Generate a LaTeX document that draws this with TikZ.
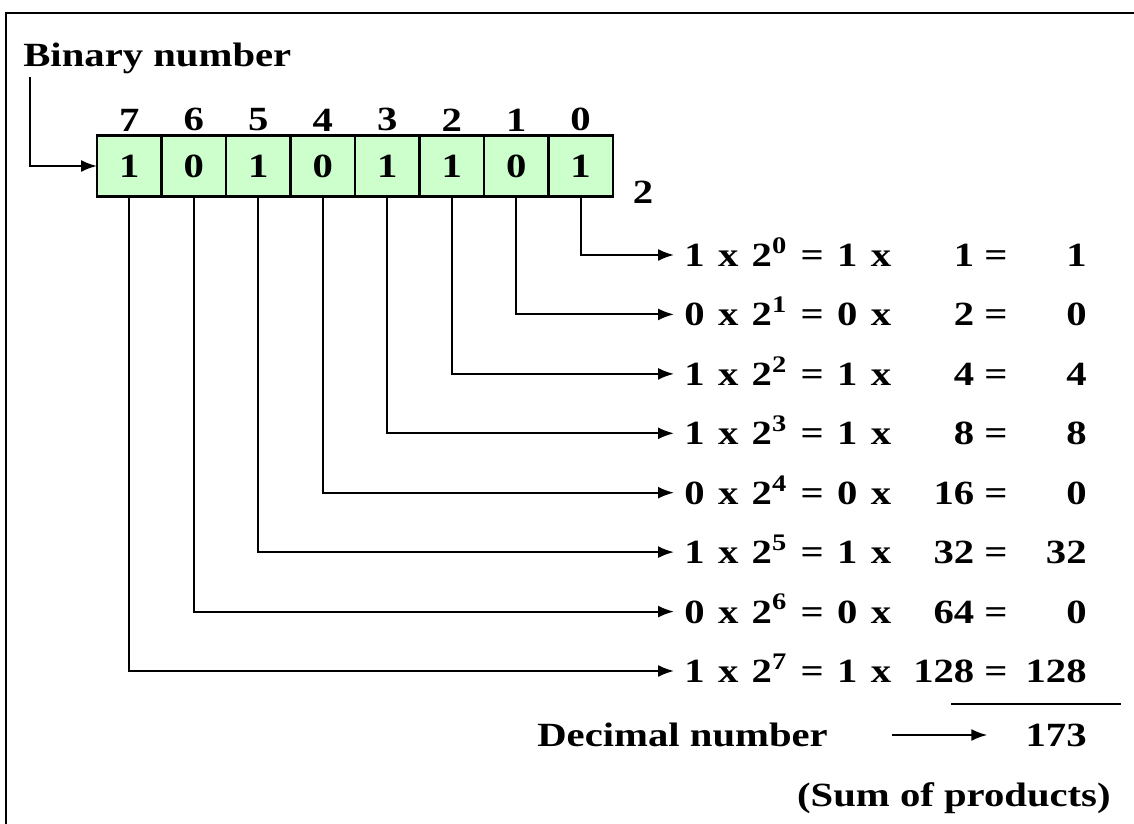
\documentclass[tikz,border=0pt]{standalone}
\usepackage{fontspec}
\setmainfont{Liberation Serif}[FakeStretch=1.2]
\usepackage{tikz}
\usetikzlibrary{positioning,arrows.meta}
\pgfdeclarelayer{background}
\pgfsetlayers{background,main}
\definecolor{bitgreen}{HTML}{CCFFCC}
\tikzset{
  bit/.style={draw,fill=bitgreen,line width=1.4pt,minimum width=1.29cm,minimum height=1.22cm,inner sep=0pt,outer sep=0pt},
  prod/.style={anchor=west,inner xsep=0.2cm,inner ysep=0pt,text height=13.2pt,text depth=0pt,execute at begin node={\spaceskip=7.6pt\relax}},
  val/.style={inner sep=0pt,text height=13.2pt,text depth=0pt},
  arr/.style={-{Latex[length=0.32cm,width=0.24cm]},line width=1.1pt},
}

\begin{document}
\begin{tikzpicture}[x=0.02cm,y=-0.02cm,font=\fontsize{19.3pt}{23pt}\selectfont\bfseries]
\useasboundingbox (0,0) rectangle (1134,824);
\begin{pgfonlayer}{background}
\draw[line width=1.7pt] (1134,13) -- (6,13) -- (6,824);
\end{pgfonlayer}
% the binary number
\node[val,anchor=west] (title) at (23,55) {Binary number};
\coordinate (tstart) at (30,77);
\node[bit] (c7) at (129.25,166) {1};
\node[bit,right=0pt of c7] (c6) {0};
\node[bit,right=0pt of c6] (c5) {1};
\node[bit,right=0pt of c5] (c4) {0};
\node[bit,right=0pt of c4] (c3) {1};
\node[bit,right=0pt of c3] (c2) {1};
\node[bit,right=0pt of c2] (c1) {0};
\node[bit,right=0pt of c1] (c0) {1};
\node[above=-1pt of c7] (n7) {7};
\node[above=-1pt of c6] (n6) {6};
\node[above=-1pt of c5] (n5) {5};
\node[above=-1pt of c4] (n4) {4};
\node[above=-1pt of c3] (n3) {3};
\node[above=-1pt of c2] (n2) {2};
\node[above=-1pt of c1] (n1) {1};
\node[above=-1pt of c0] (n0) {0};
\node (base) at (643,192) {2};
\draw[arr] (tstart) |- (c7.west);
% products
\node[prod] (p0) at (674,255) {1 x 2\textsuperscript{0} = 1 x};
\node[val,anchor=east] (m0) at (1008,255) {1 =};
\node[val,anchor=east] (v0) at (1087,255) {1};
\node[prod] (p1) at (674,314.4) {0 x 2\textsuperscript{1} = 0 x};
\node[val,anchor=east] (m1) at (1008,314.4) {2 =};
\node[val,anchor=east] (v1) at (1087,314.4) {0};
\node[prod] (p2) at (674,373.9) {1 x 2\textsuperscript{2} = 1 x};
\node[val,anchor=east] (m2) at (1008,373.9) {4 =};
\node[val,anchor=east] (v2) at (1087,373.9) {4};
\node[prod] (p3) at (674,433.3) {1 x 2\textsuperscript{3} = 1 x};
\node[val,anchor=east] (m3) at (1008,433.3) {8 =};
\node[val,anchor=east] (v3) at (1087,433.3) {8};
\node[prod] (p4) at (674,492.7) {0 x 2\textsuperscript{4} = 0 x};
\node[val,anchor=east] (m4) at (1008,492.7) {16 =};
\node[val,anchor=east] (v4) at (1087,492.7) {0};
\node[prod] (p5) at (674,552.1) {1 x 2\textsuperscript{5} = 1 x};
\node[val,anchor=east] (m5) at (1008,552.1) {32 =};
\node[val,anchor=east] (v5) at (1087,552.1) {32};
\node[prod] (p6) at (674,611.6) {0 x 2\textsuperscript{6} = 0 x};
\node[val,anchor=east] (m6) at (1008,611.6) {64 =};
\node[val,anchor=east] (v6) at (1087,611.6) {0};
\node[prod] (p7) at (674,671) {1 x 2\textsuperscript{7} = 1 x};
\node[val,anchor=east] (m7) at (1008,671) {128 =};
\node[val,anchor=east] (v7) at (1087,671) {128};
\draw[arr] (c0.south) |- (p0.west);
\draw[arr] (c1.south) |- (p1.west);
\draw[arr] (c2.south) |- (p2.west);
\draw[arr] (c3.south) |- (p3.west);
\draw[arr] (c4.south) |- (p4.west);
\draw[arr] (c5.south) |- (p5.west);
\draw[arr] (c6.south) |- (p6.west);
\draw[arr] (c7.south) |- (p7.west);
% the sum
\draw[line width=1.1pt] (951,704) -- (1121,704);
\node[val,anchor=west] (dec) at (537,735) {Decimal number};
\node[val,anchor=east] (tot) at (1087,735) {173};
\draw[arr] ([xshift=-2.66cm]tot.west) -- ([xshift=-0.76cm]tot.west);
\node[val,anchor=east] (note) at (1111,795) {(Sum of products)};
\end{tikzpicture}
\end{document}
